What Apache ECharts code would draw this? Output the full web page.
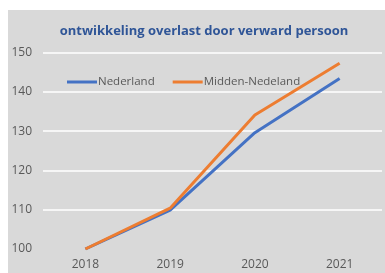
<!DOCTYPE html>
<html>
<head>
<meta charset="utf-8">
<script src="https://cdn.jsdelivr.net/npm/echarts@6/dist/echarts.min.js"></script>
<style>
  html, body { margin: 0; padding: 0; background: #fff; }
  #chart { width: 385px; height: 273px; }
</style>
</head>
<body>
<div id="chart"></div>
<script>
// data
var years = ['2018', '2019', '2020', '2021'];
var nederland = [100, 109.9, 129.6, 143.4];
var middenNederland = [100, 110.4, 134.1, 147.3];
var yTicks = [100, 110, 120, 130, 140, 150];

var chart = echarts.init(document.getElementById('chart'));
chart.setOption({
  backgroundColor: '#fff',
  animation: false,
  textStyle: { fontFamily: 'Open Sans' },
  graphic: [{
    type: 'rect',
    left: 8, top: 10,
    shape: { width: 377, height: 263 },
    style: { fill: '#d9d9d9' },
    z: -10
  }],
  title: {
    text: 'ontwikkeling overlast door verward persoon',
    left: 199, top: 20,
    textAlign: 'center',
    textStyle: { color: '#2f5597', fontSize: 13, fontWeight: 'bold', fontFamily: 'Open Sans' }
  },
  legend: {
    left: 67, top: 76,
    padding: 0,
    icon: 'rect',
    itemWidth: 30, itemHeight: 3,
    itemGap: 18,
    textStyle: { color: '#595959', fontSize: 11.5, padding: [0, 0, 0, -4] },
    data: ['Nederland', 'Midden-Nedeland']
  },
  grid: { left: 43, right: 3, top: 52.6, bottom: 24, containLabel: false },
  xAxis: {
    type: 'category',
    data: years,
    boundaryGap: true,
    axisLine: { show: false },
    axisTick: { show: false },
    axisLabel: { color: '#595959', fontSize: 12, margin: 10 }
  },
  yAxis: {
    type: 'value',
    min: yTicks[0], max: yTicks[yTicks.length - 1], interval: 10,
    axisLine: { show: false },
    axisTick: { show: false },
    axisLabel: { color: '#595959', fontSize: 12, margin: 11 },
    splitLine: { lineStyle: { color: ['transparent', '#fff', '#fff', '#fff', '#fff', '#fff'], width: 1.5 } }
  },
  series: [
    {
      name: 'Nederland', type: 'line', data: nederland,
      symbol: 'none',
      lineStyle: { color: '#4472c4', width: 3 },
      itemStyle: { color: '#4472c4' }
    },
    {
      name: 'Midden-Nedeland', type: 'line', data: middenNederland,
      symbol: 'none',
      lineStyle: { color: '#ed7d31', width: 3 },
      itemStyle: { color: '#ed7d31' }
    }
  ]
});
</script>
</body>
</html>
